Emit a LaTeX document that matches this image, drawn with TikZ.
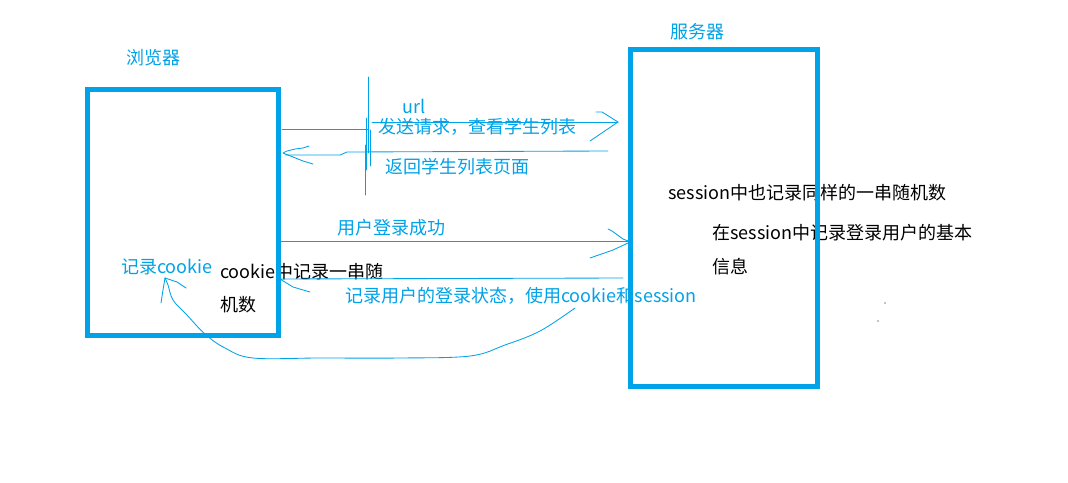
\documentclass[tikz,border=0pt]{standalone}
\usepackage{fontspec}
\setmainfont{Noto Sans CJK SC}
\definecolor{pblue}{RGB}{0,162,232}
\begin{document}
\begin{tikzpicture}[x=1pt,y=-1pt,
  bigbox/.style={draw=pblue,line width=5pt,fill=none,inner sep=0pt,outer sep=0pt},
  lbl/.style={anchor=base west,inner sep=0pt,font=\fontsize{18}{22}\selectfont},
  blbl/.style={lbl,text=pblue},
  klbl/.style={lbl,text=black},
  thin/.style={draw=pblue,line width=0.85pt,line cap=round,line join=round}]
\useasboundingbox (0,0) rectangle (1068,482);
\fill[white] (0,0) rectangle (1068,482);
% texts
\node[blbl] (tbrowser) at (126,64.5) {浏览器};
\node[blbl] (tserver) at (670,38.5) {服务器};
\node[blbl] (turl) at (402,113.5) {url};
\node[blbl] (treq) at (378,133.5) {发送请求，查看学生列表};
\node[blbl] (tresp) at (385,173.5) {返回学生列表页面};
\node[blbl] (tlogin) at (337,234.5) {用户登录成功};
\node[blbl] (trec) at (121,273.5) {记录cookie};
\node[klbl] (tck1) at (220,278.5) {cookie中记录一串随};
\node[klbl] (tck2) at (220,311.5) {机数};
\node[blbl] (tstate) at (345,302.5) {记录用户的登录状态，使用cookie和session};
\node[klbl] (tss1) at (668,199.5) {session中也记录同样的一串随机数};
\node[klbl] (tss2) at (712,239.5) {在session中记录登录用户的基本};
\node[klbl] (tss3) at (712,273.5) {信息};
% boxes
\node[bigbox,minimum width=191pt,minimum height=246pt] (browser) at (183,212.5) {};
\node[bigbox,minimum width=186.5pt,minimum height=337.5pt] (server) at (723.75,217.75) {};
% request
\coordinate (r1) at (282,129);
\coordinate (r2) at (618,122);
\draw[thin] (r1) -- (369,129);
\draw[thin] (372,122) -- (r2);
\draw[thin] (596,112) -- (602,112) -- (r2) -- (590,141);
% response
\coordinate (s1) at (608,151);
\coordinate (s2) at (283,153);
\draw[thin] (s1) -- (347,152) -- (340,155) -- (285,155);
\draw[thin] (309,146) -- (303,148) -- (295,149) -- (287,151) -- (s2) -- (293,157) -- (303,161) -- (313,164);
% vertical marker
\draw[thin] (368,77) -- (368,153);
\draw[thin] (366,118) -- (366,170);
\draw[thin] (370,130) -- (370,166);
\draw[thin] (365,145) -- (365,195);
% login
\coordinate (l1) at (281,241);
\coordinate (l2) at (628,241);
\draw[thin] (l1) -- (l2);
\draw[thin] (608,229) -- (612,231) -- (623,239) -- (l2);
\draw[thin] (628,243) -- (613,250) -- (590,258);
% login state
\coordinate (m1) at (623,278);
\coordinate (m2) at (280,279);
\draw[thin] (m1) -- (m2) -- (293,287) -- (310,292);
% curve back to cookie
\coordinate (c1) at (575,308);
\coordinate (c2) at (165,278);
\draw[thin] plot[smooth,tension=0.6] coordinates {(575,308) (540,331) (505,345) (470,356) (400,358) (320,358) (253,358) (225,348) (205,334) (186,314) (173,300) (168,285) (165,278)};
\draw[thin] (c2) -- (163,290) -- (161,303);
\draw[thin] (c2) -- (177,282) -- (186,288);
% dots
\fill[black] (885,303) circle (0.6);
\fill[black] (878,321) circle (0.6);
\end{tikzpicture}
\end{document}
